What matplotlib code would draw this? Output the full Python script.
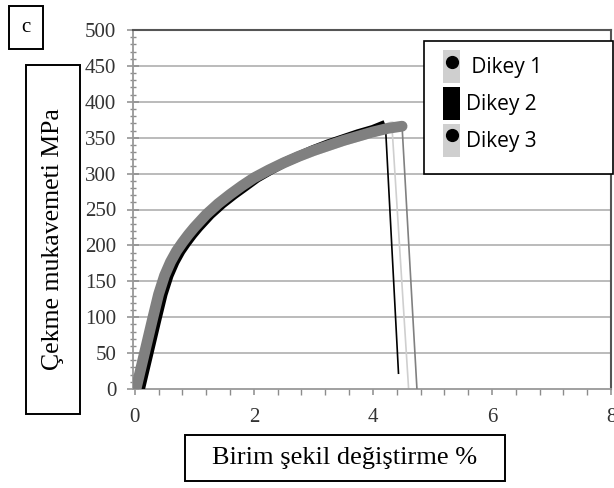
import matplotlib
matplotlib.use("Agg")
import matplotlib.pyplot as plt
from matplotlib.patches import Rectangle
from matplotlib.lines import Line2D
from matplotlib.legend_handler import HandlerTuple
from matplotlib.ticker import MultipleLocator

plt.rcParams["font.family"] = ["Liberation Serif", "DejaVu Serif"]

# ---- data ----
series_names = [" Dikey 1", "Dikey 2", "Dikey 3"]

strain_1 = [0.02, 0.10, 0.20, 0.30, 0.40, 0.50, 0.60, 0.70, 0.80, 0.90, 1.00, 1.20, 1.40,
            1.60, 1.80, 2.00, 2.25, 2.50, 2.75, 3.00, 3.25, 3.50, 3.75, 4.00, 4.25, 4.49, 4.74]
stress_1 = [0, 28, 63, 98, 132, 158, 177, 192, 204, 215, 225, 243, 258,
            271, 283, 294, 305, 315, 324, 332, 339, 346, 352, 358, 363, 366, 0]

strain_2 = [0.09, 0.17, 0.27, 0.37, 0.47, 0.57, 0.67, 0.77, 0.87, 0.97, 1.07, 1.27, 1.47,
            1.67, 1.87, 2.05, 2.30, 2.50, 2.75, 3.00, 3.25, 3.50, 3.75, 4.00, 4.21, 4.43]
stress_2 = [0, 28, 63, 98, 132, 158, 177, 192, 204, 215, 225, 243, 258,
            271, 283, 294, 306, 315, 324, 333, 341, 348, 355, 361, 368, 22]

strain_3 = [0.05, 0.13, 0.23, 0.33, 0.43, 0.53, 0.63, 0.73, 0.83, 0.93, 1.03, 1.23, 1.43,
            1.63, 1.83, 2.03, 2.28, 2.53, 2.78, 3.03, 3.28, 3.53, 3.78, 4.03, 4.32, 4.60]
stress_3 = [0, 28, 63, 98, 132, 158, 177, 192, 204, 215, 225, 243, 258,
            271, 283, 294, 305, 315, 324, 332, 339, 346, 352, 358, 366, 0]

x_ticks = [0, 2, 4, 6, 8]
y_ticks = [0, 50, 100, 150, 200, 250, 300, 350, 400, 450, 500]

panel_label = "c"
x_label = "Birim şekil değiştirme %"
y_label = "Çekme mukavemeti MPa"

# ---- figure ----
W, H = 614, 488
fig = plt.figure(figsize=(W / 100, H / 100), dpi=100)

def fx(px):
    return px / W

def fy(py):
    return 1 - py / H

ax = fig.add_axes([fx(133), fy(389), fx(611) - fx(133), fy(30) - fy(389)])
ax.set_xlim(-0.03, 8.0)
ax.set_ylim(0, 500)

grid_c = "#a8a8a8"
for yv in y_ticks[1:]:
    ax.axhline(yv, color=grid_c, lw=1.1, zorder=0)

light = "#cfcfcf"
gray = "#808080"

# Dikey 3 (light gray)
ax.plot(strain_3[:-1], stress_3[:-1], color=light, lw=7, solid_capstyle="round",
        solid_joinstyle="round", zorder=2)
ax.plot(strain_3[-2:], stress_3[-2:], color=light, lw=1.2, zorder=2)
# Dikey 2 (black)
ax.plot(strain_2[:-1], stress_2[:-1], color="black", lw=7.0, solid_capstyle="butt",
        solid_joinstyle="round", zorder=3)
ax.plot(strain_2[-2:], stress_2[-2:], color="black", lw=1.2, zorder=3)
# Dikey 1 (gray)
ax.plot(strain_1[:-1], stress_1[:-1], color=gray, lw=7.8, solid_capstyle="round",
        solid_joinstyle="round", zorder=4)
ax.plot(strain_1[-2:], stress_1[-2:], color=gray, lw=1.2, zorder=4)

ax.set_xticks(x_ticks)
ax.set_yticks(y_ticks)
ax.xaxis.set_minor_locator(MultipleLocator(0.4))
ax.yaxis.set_minor_locator(MultipleLocator(10))

tick_c = "#8c8c8c"
ax.tick_params(axis="both", which="major", labelsize=15, labelcolor="#333333")
ax.tick_params(axis="y", which="major", direction="inout", length=8, width=1.1, color=tick_c, pad=8)
ax.tick_params(axis="y", which="minor", direction="inout", length=5, width=1.0, color=tick_c)
ax.tick_params(axis="x", which="major", direction="out", length=4, width=1.1, color=tick_c, pad=10)
ax.tick_params(axis="x", which="minor", direction="out", length=4, width=1.0, color=tick_c)

for side in ("left", "bottom"):
    ax.spines[side].set_color("#999999")
    ax.spines[side].set_linewidth(1.3)
for side in ("top", "right"):
    ax.spines[side].set_color("#555555")
    ax.spines[side].set_linewidth(1.5)

# ---- legend ----
h1 = (Rectangle((0, 0), 1, 1, fc=light, ec="none"),
      Line2D([], [], ls="none", marker="o", color="black", markersize=8.5))
h2 = Rectangle((0, 0), 1, 1, fc="black", ec="none")
h3 = (Rectangle((0, 0), 1, 1, fc=light, ec="none"),
      Line2D([], [], ls="none", marker="o", color="black", markersize=8.5))
leg = fig.legend([h1, h2, h3], series_names,
                 handler_map={tuple: HandlerTuple(ndivide=1)},
                 loc="upper left", bbox_to_anchor=(fx(443), fy(50)),
                 bbox_transform=fig.transFigure,
                 frameon=False, borderpad=0, borderaxespad=0,
                 handlelength=0.82, handleheight=2.06, labelspacing=0.19,
                 handletextpad=0.29,
                 prop={"family": "Open Sans", "size": 15})
leg.set_zorder(10)
fig.add_artist(Rectangle((fx(424), fy(174)), fx(613) - fx(424), fy(41) - fy(174),
                         transform=fig.transFigure, fc="white", ec="black", lw=1.2, zorder=9))

# ---- boxed labels ----
def boxed(x0, y0, x1, y1, text, size, rot=0):
    fig.add_artist(Rectangle((fx(x0), fy(y1)), fx(x1) - fx(x0), fy(y0) - fy(y1),
                             transform=fig.transFigure, fc="white", ec="black", lw=1.4, zorder=5))
    fig.text(fx((x0 + x1) / 2), fy((y0 + y1) / 2), text, rotation=rot,
             ha="center", va="center", family="Liberation Serif", fontsize=size, zorder=6)

boxed(9, 6, 43, 49, panel_label, 15)
boxed(26, 65, 80, 414, y_label, 18.5, rot=90)
boxed(185, 435, 505, 481, x_label, 19)

fig.savefig("out.png", dpi=100)
